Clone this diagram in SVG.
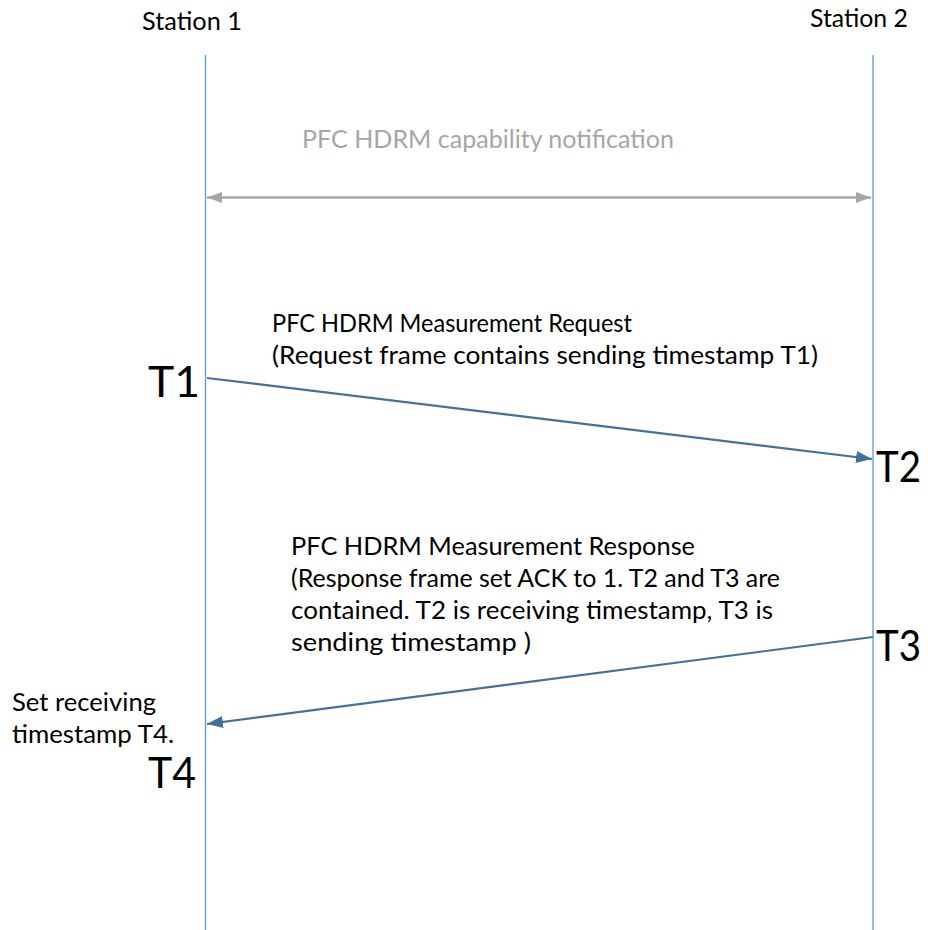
<svg xmlns="http://www.w3.org/2000/svg" width="928" height="930" viewBox="0 0 928 930">
<style>
text{font-family:Lato,"Liberation Sans",sans-serif;font-size:24.5px;fill:#000}
.grey{fill:#A6A6A6}
.big{font-size:43px}
.life{stroke:#5B9BD5;stroke-width:1.3;fill:none}
.msg{stroke:#41719C;stroke-width:2.2;fill:none}
.cap{stroke:#A6A6A6;stroke-width:2.6;fill:none}
</style>
<defs>
<marker id="ab" viewBox="0 0 16 12" refX="16" refY="6" markerWidth="16" markerHeight="12" markerUnits="userSpaceOnUse" orient="auto"><path d="M0,0 L16,6 L0,12 z" fill="#41719C"/></marker>
<marker id="ag" viewBox="0 0 15 11" refX="15" refY="5.5" markerWidth="15" markerHeight="11" markerUnits="userSpaceOnUse" orient="auto-start-reverse"><path d="M0,0 L15,5.5 L0,11 z" fill="#A6A6A6"/></marker>
</defs>
<g id="station1">
<text x="142" y="30" textLength="100" lengthAdjust="spacingAndGlyphs">Station 1</text>
<line class="life" x1="205.5" y1="55" x2="205.5" y2="930"/>
</g>
<g id="station2">
<text x="810" y="27" textLength="98" lengthAdjust="spacingAndGlyphs">Station 2</text>
<line class="life" x1="873" y1="55" x2="873" y2="930"/>
</g>
<g id="labels">
<text class="grey" x="302" y="148" textLength="372" lengthAdjust="spacingAndGlyphs">PFC HDRM capability notification</text>
<text x="272" y="332" textLength="360" lengthAdjust="spacingAndGlyphs">PFC HDRM Measurement Request</text>
<text x="272" y="364" textLength="546" lengthAdjust="spacingAndGlyphs">(Request frame contains sending timestamp T1)</text>
<text x="291" y="555" textLength="404" lengthAdjust="spacingAndGlyphs">PFC HDRM Measurement Response</text>
<text x="291" y="587" textLength="489" lengthAdjust="spacingAndGlyphs">(Response frame set ACK to 1. T2 and T3 are</text>
<text x="291" y="619" textLength="482" lengthAdjust="spacingAndGlyphs">contained. T2 is receiving timestamp, T3 is</text>
<text x="291" y="651" textLength="240" lengthAdjust="spacingAndGlyphs">sending timestamp )</text>
<text x="12" y="711" textLength="144" lengthAdjust="spacingAndGlyphs">Set receiving</text>
<text x="12" y="743" textLength="162" lengthAdjust="spacingAndGlyphs">timestamp T4.</text>
<text class="big" x="148" y="397" textLength="52" lengthAdjust="spacingAndGlyphs">T1</text>
<text class="big" x="876" y="482" textLength="45" lengthAdjust="spacingAndGlyphs">T2</text>
<text class="big" x="876" y="661" textLength="45" lengthAdjust="spacingAndGlyphs">T3</text>
<text class="big" x="148" y="788" textLength="48" lengthAdjust="spacingAndGlyphs">T4</text>
</g>
<g id="connectors">
<line class="cap" x1="207" y1="197.5" x2="871" y2="197.5" marker-start="url(#ag)" marker-end="url(#ag)"/>
<line class="msg" x1="207" y1="378" x2="872" y2="459" marker-end="url(#ab)"/>
<line class="msg" x1="873" y1="637" x2="207" y2="724" marker-end="url(#ab)"/>
</g>
</svg>
